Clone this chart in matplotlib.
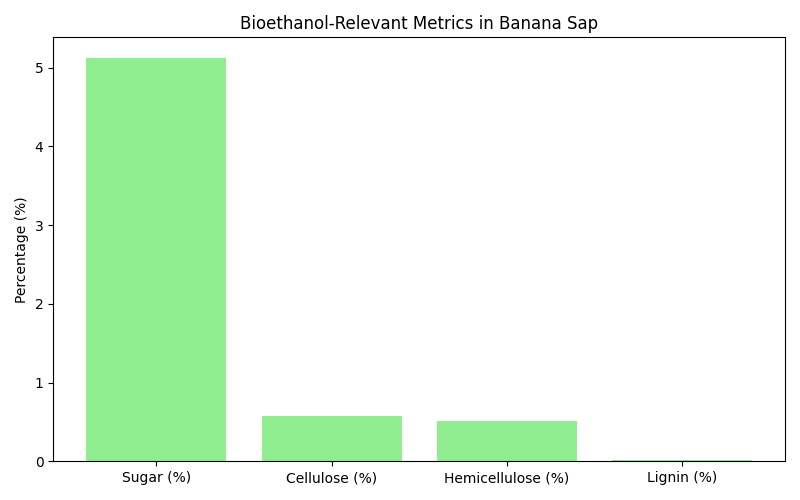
import matplotlib
matplotlib.use("Agg")
import matplotlib.pyplot as plt

categories = ["Sugar (%)", "Cellulose (%)", "Hemicellulose (%)", "Lignin (%)"]
values = [5.13, 0.57, 0.51, 0.01]

fig, ax = plt.subplots(figsize=(8, 5), dpi=100)
ax.bar(categories, values, color="lightgreen")
ax.set_ylabel("Percentage (%)")
ax.set_title("Bioethanol-Relevant Metrics in Banana Sap")
fig.tight_layout()
fig.savefig("out.png")
